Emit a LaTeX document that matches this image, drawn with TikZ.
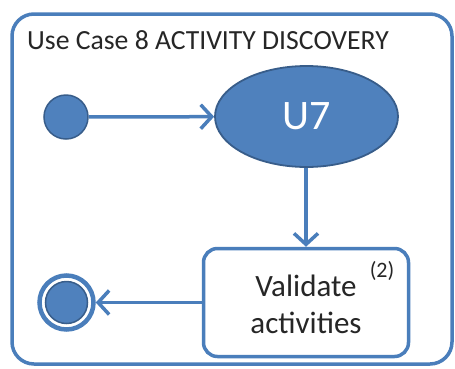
\documentclass[tikz,border=0pt]{standalone}
\usepackage{fontspec}
\setmainfont{Carlito}
\usetikzlibrary{arrows.meta,shapes.geometric}
\definecolor{ofblue}{HTML}{4F81BD}
\definecolor{ofdark}{HTML}{385D8A}
\definecolor{oline}{HTML}{4A7EBB}
\begin{document}
\begin{tikzpicture}[x=1pt,y=-1pt,
  conn/.style={draw=oline,line width=3.5pt,-{Straight Barb[length=11pt,width=24pt,line width=3.5pt]}},
  lbl/.style={text=black!85}]
\useasboundingbox (0,0) rectangle (455,368);
\draw[oline,line width=3.5pt,rounded corners=22pt] (12,14) rectangle (452,364);
\node[lbl,anchor=west,font=\fontsize{27.7}{32}\selectfont,inner sep=0pt] (title) at (27,40) {Use Case 8 ACTIVITY DISCOVERY};
\node[circle,fill=ofblue,draw=ofdark,line width=1.5pt,minimum size=44pt,inner sep=0pt] (init) at (66,117) {};
\node[ellipse,fill=ofblue,draw=ofdark,line width=1.8pt,minimum width=183pt,minimum height=101pt,inner sep=0pt,text=white,font=\fontsize{42}{46}\selectfont] (u7) at (306.5,116.5) {U7};
\node[draw=oline,line width=3.5pt,rounded corners=14pt,minimum width=205pt,minimum height=108pt,fill=white,inner sep=0pt] (val) at (306,302.5) {};
\node[lbl,align=center,font=\fontsize{31}{37}\selectfont] (valtxt) at (306,304) {Validate\\activities};
\node[lbl,font=\fontsize{22}{26}\selectfont,inner sep=0pt] (two) at (382,271) {(2)};
\node[circle,draw=oline,line width=4.5pt,minimum size=54pt,inner sep=0pt] (fin) at (66.5,302.5) {};
\node[circle,fill=ofblue,draw=ofdark,line width=1.5pt,minimum size=42pt,inner sep=0pt] (finin) at (66.5,302.5) {};
\draw[conn] (init) -- (u7);
\draw[conn] (u7.south -| val.north) -- (val.north);
\draw[conn] (val.west) -- (fin.east);
\end{tikzpicture}
\end{document}
